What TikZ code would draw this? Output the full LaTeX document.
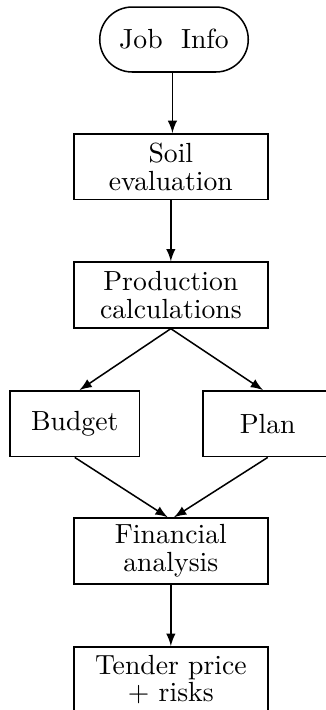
\documentclass[tikz,border=0pt]{standalone}
\usetikzlibrary{shapes,arrows,positioning}

\begin{document}
\begin{tikzpicture}[
    x=0.0127cm, y=-0.0127cm,
    box/.style={rectangle, draw, line width=0.55pt, minimum width=2.46cm, minimum height=0.835cm, align=center, inner sep=1pt, font=\fontsize{10}{10}\selectfont},
    smallbox/.style={box, minimum width=1.65cm},
    startbox/.style={rounded rectangle, draw, line width=0.55pt, minimum width=2.12cm, minimum height=0.825cm, font=\fontsize{10}{10}\selectfont},
    flow/.style={-latex, line width=0.55pt}
]
\useasboundingbox (0,0) rectangle (326,710);

% Steps
\node (job) [startbox] at (174,39.5) {Job~~Info};
\node (soil) [box, below=0.765cm of job, xshift=-0.04cm] {Soil\\evaluation};
\node (prod) [box, below=0.775cm of soil] {Production\\calculations};
\node (budget) [smallbox, below=0.78cm of prod, xshift=-1.22cm] {Budget};
\node (plan) [smallbox, below=0.78cm of prod, xshift=1.23cm] {Plan};
\node (fin) [box, below=0.76cm of budget, xshift=1.22cm] {Financial\\analysis};
\node (tender) [box, below=0.78cm of fin] {Tender price\\$+$ risks};

% Arrows
\draw[flow] ([xshift=-0.02cm]job.south) -- ([xshift=-0.02cm]job.south |- soil.north);
\draw[flow] (soil) -- (prod);
\draw[flow] (prod.south) -- ([xshift=0.06cm]budget.north);
\draw[flow] (prod.south) -- ([xshift=-0.06cm]plan.north);
\draw[flow] (budget.south) -- ([xshift=-0.04cm]fin.north);
\draw[flow] (plan.south) -- ([xshift=0.04cm]fin.north);
\draw[flow] (fin) -- (tender);

\end{tikzpicture}
\end{document}
